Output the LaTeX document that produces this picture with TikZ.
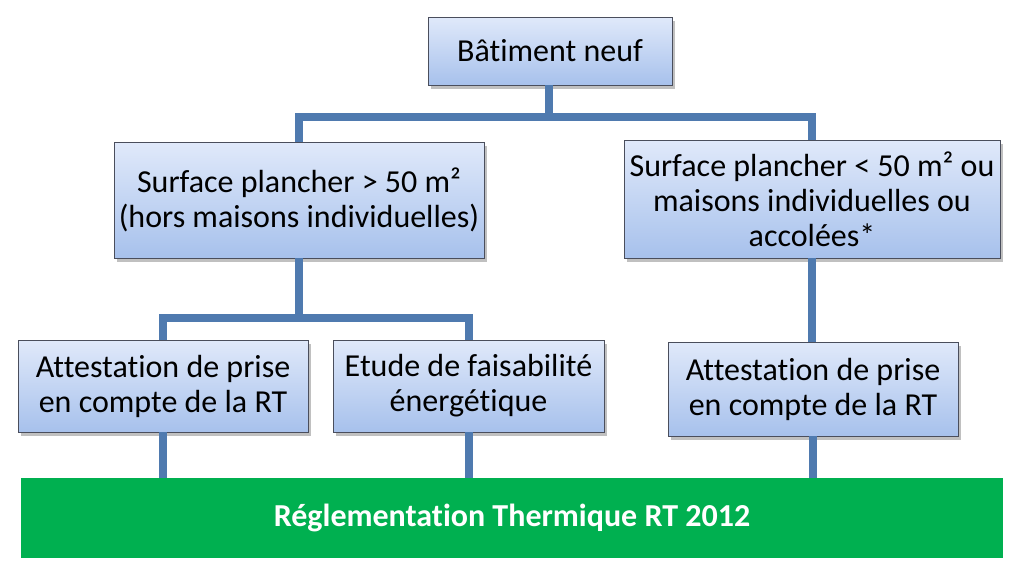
\documentclass[tikz,border=0pt]{standalone}
\usepackage{fontspec}
\setmainfont{Carlito}[Ligatures=NoCommon]
\usetikzlibrary{shadows,positioning}
\definecolor{conn}{HTML}{4F7AAF}
\definecolor{btop}{HTML}{E0E9FA}
\definecolor{bbot}{HTML}{A7C1EC}
\definecolor{bord}{HTML}{4A4E5C}
\definecolor{vert}{HTML}{00B050}
\tikzset{
  box/.style={draw=bord, line width=0.9pt, top color=btop, bottom color=bbot,
    inner sep=0pt, align=center, font=\fontsize{32}{35}\selectfont,
    drop shadow={shadow xshift=3pt, shadow yshift=-4pt, opacity=0.35, fill=black!70}},
  conn/.style={draw=conn, line width=8pt},
}
\begin{document}
\begin{tikzpicture}[x=1pt,y=-1pt]
\useasboundingbox (0,0) rectangle (1024,573);
\fill[white] (0,0) rectangle (1024,573);
\coordinate (j1) at (549,117);
\coordinate (j2) at (297,318);
\node[box, minimum width=244pt, minimum height=68pt] (bn) at (550,51) {Bâtiment neuf};
\node[box, minimum width=370pt, minimum height=116pt] (sl) at (299,200) {Surface plancher > 50 m²\\(hors maisons individuelles)};
\node[box, minimum width=376pt, minimum height=118pt] (sr) at (812,199) {Surface plancher < 50 m² ou\\maisons individuelles ou\\accolées*};
\node[box, minimum width=290pt, minimum height=92pt] (a1) at (163,386) {Attestation de prise\\en compte de la RT};
\node[box, minimum width=271pt, minimum height=92pt] (ef) at (468.5,386) {Etude de faisabilité\\énergétique};
\node[box, minimum width=290pt, minimum height=94pt] (a2) at (813,389) {Attestation de prise\\en compte de la RT};
\node[fill=vert, minimum width=982pt, minimum height=80pt, inner sep=0pt,
  text=white, font=\fontsize{32}{35}\selectfont\bfseries] (rt) at (512,518) {Réglementation Thermique RT 2012};
% connectors
\draw[conn] (bn.south -| j1) -- (j1);
\draw[conn] ([xshift=-4pt]j1 -| sl.north) -- ([xshift=4pt]j1 -| sr.north);
\draw[conn] (j1 -| sl.north) -- (sl.north);
\draw[conn] (j1 -| sr.north) -- (sr.north);
\draw[conn] (sl.south) -- (sl.south |- j2);
\draw[conn] ([xshift=-4pt]j2 -| a1.north) -- ([xshift=4pt]j2 -| ef.north);
\draw[conn] (j2 -| a1.north) -- (a1.north);
\draw[conn] (j2 -| ef.north) -- (ef.north);
\draw[conn] (sr.south) -- (sr.south |- a2.north);
\draw[conn] (a1.south) -- (a1.south |- rt.north);
\draw[conn] (ef.south) -- (ef.south |- rt.north);
\draw[conn] (a2.south) -- (a2.south |- rt.north);
\end{tikzpicture}
\end{document}
